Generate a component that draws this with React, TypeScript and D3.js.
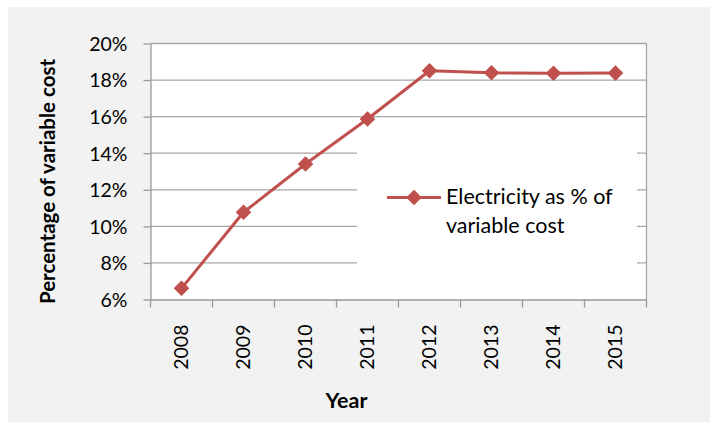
import React, { useEffect, useRef } from 'react';
import * as d3 from 'd3';

const years = ['2008', '2009', '2010', '2011', '2012', '2013', '2014', '2015'];
const electricityShare = [0.0661, 0.1077, 0.1341, 0.1587, 0.1851, 0.184, 0.1837, 0.1838];
const yTicks = [0.06, 0.08, 0.1, 0.12, 0.14, 0.16, 0.18, 0.2];
const legendLines = ['Electricity as % of', 'variable cost'];

const FONT = 'Lato, "Open Sans", sans-serif';
const RED = '#C0504D';

const App = () => {
  const svgRef = useRef<SVGSVGElement>(null);

  useEffect(() => {
    const svg = d3.select(svgRef.current);
    svg.selectAll('*').remove();

    const width = 716;
    const height = 422;
    const plot = { left: 150.5, top: 43.5, right: 646.5, bottom: 299.5 };

    // chart area background
    svg.append('rect').attr('width', width).attr('height', height).attr('fill', '#fff');
    svg.append('rect').attr('x', 8).attr('y', 7).attr('width', 702).attr('height', 415).attr('fill', '#F2F2F2');
    svg.append('rect')
      .attr('x', plot.left).attr('y', plot.top)
      .attr('width', plot.right - plot.left).attr('height', plot.bottom - plot.top)
      .attr('fill', '#fff');

    const x = d3.scaleBand().domain(years).range([plot.left, plot.right]);
    const y = d3.scaleLinear().domain([0.06, 0.2]).range([plot.bottom, plot.top]);

    // gridlines
    svg.append('g')
      .selectAll('line')
      .data(yTicks.slice(1))
      .join('line')
      .attr('x1', plot.left).attr('x2', plot.right)
      .attr('y1', (d) => y(d)).attr('y2', (d) => y(d))
      .attr('stroke', '#A6A6A6').attr('stroke-width', 1.3);

    // right border
    svg.append('line')
      .attr('x1', plot.right).attr('x2', plot.right)
      .attr('y1', plot.top).attr('y2', plot.bottom)
      .attr('stroke', '#A6A6A6').attr('stroke-width', 1.3);

    // Y axis
    const yAxis = svg.append('g')
      .attr('transform', `translate(${plot.left},0)`)
      .call(d3.axisLeft(y).tickValues(yTicks).tickSize(7).tickSizeOuter(0).tickFormat(d3.format('.0%')));
    yAxis.selectAll('path, line').attr('stroke', '#999').attr('stroke-width', 1.3);
    yAxis.selectAll('text')
      .attr('font-family', FONT).attr('font-size', 19.5).attr('fill', '#000')
      .attr('x', -23).attr('dy', '0.35em');

    // X axis
    const xAxis = svg.append('g')
      .attr('transform', `translate(0,${plot.bottom})`)
      .call(d3.axisBottom(x).tickSize(0).tickSizeOuter(0));
    xAxis.select('path').attr('stroke', '#999').attr('stroke-width', 1.3);
    xAxis.selectAll('.tick text')
      .attr('font-family', FONT).attr('font-size', 19.5).attr('fill', '#000')
      .attr('transform', 'rotate(-90)')
      .attr('text-anchor', 'end')
      .attr('x', -25).attr('y', 0).attr('dy', '0.35em');
    // category boundary ticks
    xAxis.append('g')
      .selectAll('line')
      .data([...years.map((d) => x(d) as number), plot.right])
      .join('line')
      .attr('x1', (d) => d).attr('x2', (d) => d)
      .attr('y1', 0).attr('y2', 8)
      .attr('stroke', '#999').attr('stroke-width', 1.3);

    // axis titles
    svg.append('text')
      .attr('transform', `translate(55,181.5) rotate(-90)`)
      .attr('text-anchor', 'middle')
      .attr('font-family', FONT).attr('font-size', 20.5).attr('font-weight', 'bold')
      .text('Percentage of variable cost');
    svg.append('text')
      .attr('x', 346.5).attr('y', 408)
      .attr('text-anchor', 'middle')
      .attr('font-family', FONT).attr('font-size', 21.5).attr('font-weight', 'bold')
      .text('Year');

    // series
    const cx = (d: string) => (x(d) as number) + x.bandwidth() / 2;
    const points = years.map((yr, i) => ({ yr, v: electricityShare[i] }));
    const line = d3.line<{ yr: string; v: number }>().x((d) => cx(d.yr)).y((d) => y(d.v));
    svg.append('path')
      .datum(points)
      .attr('fill', 'none').attr('stroke', RED).attr('stroke-width', 3)
      .attr('stroke-linejoin', 'round')
      .attr('d', line);

    const diamond = d3.symbol().type(d3.symbolSquare).size(100);
    svg.append('g')
      .selectAll('path')
      .data(points)
      .join('path')
      .attr('d', diamond)
      .attr('transform', (d) => `translate(${cx(d.yr)},${y(d.v)}) rotate(45)`)
      .attr('fill', RED).attr('stroke', RED).attr('stroke-width', 1);

    // legend
    const legend = svg.append('g');
    legend.append('rect')
      .attr('x', 357).attr('y', 135).attr('width', 280).attr('height', 142)
      .attr('fill', '#fff');
    legend.append('line')
      .attr('x1', 387).attr('x2', 441).attr('y1', 197.5).attr('y2', 197.5)
      .attr('stroke', RED).attr('stroke-width', 3);
    legend.append('path')
      .attr('d', diamond)
      .attr('transform', 'translate(414,197.5) rotate(45)')
      .attr('fill', RED).attr('stroke', RED).attr('stroke-width', 1);
    legend.selectAll('text.item')
      .data(legendLines)
      .join('text')
      .attr('class', 'item')
      .attr('x', 446).attr('y', (d, i) => 203.5 + i * 29)
      .attr('font-family', FONT).attr('font-size', 21.5).attr('fill', '#000')
      .text((d) => d);
  }, []);

  return (
    <svg
      ref={svgRef}
      width={716}
      height={422}
      style={{ position: 'absolute', left: 0, top: 0 }}
    />
  );
};

export default App;
